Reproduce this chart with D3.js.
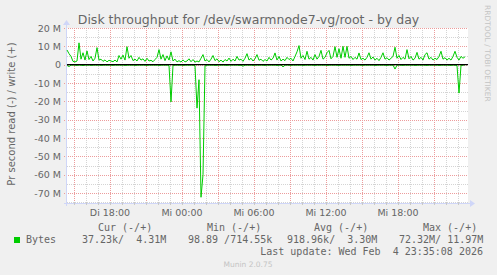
<!DOCTYPE html>
<html>
<head>
<meta charset="utf-8">
<script src="https://cdn.jsdelivr.net/npm/d3@7"></script>
<style>
body { margin: 0; background: #f0f0f0; }
svg text { font-family: "DejaVu Sans", sans-serif; fill: #666666; }
svg text.mono { font-family: "DejaVu Sans Mono", monospace; white-space: pre; }
</style>
</head>
<body>
<script>
// Zeitachse: Start, Ende, Abstand der Messpunkte
var startTime = new Date(2026, 1, 3, 14, 25, 0);
var endTime = new Date(2026, 1, 4, 23, 45, 0);
var stepSeconds = 600;

// write (+) in MB/s, alle 10 Minuten
var writeData = [
    8.0, 6.0, 4.5, 1.8, 1.5, 2.0, 11.9, 3.0, 6.5, 2.5,
    7.5, 2.8, 4.5, 2.0, 3.5, 9.3, 2.5, 3.0, 1.8, 2.6,
    1.5, 2.4, 2.0, 1.6, 2.5, 1.5, 5.0, 3.0, 5.2, 2.5,
    9.8, 3.5, 5.0, 2.2, 3.0, 2.0, 4.0, 2.5, 3.2, 1.8,
    3.5, 2.0, 2.4, 1.6, 2.8, 4.0, 8.2, 3.0, 5.5, 2.2,
    4.8, 2.5, 7.0, 2.0, 3.0, 1.5, 2.2, 1.4, 2.6, 1.5,
    2.0, 3.2, 1.6, 2.8, 1.4, 2.0, 1.5, 3.5, 5.5, 2.0,
    2.8, 1.5, 3.0, 5.0, 2.2, 3.2, 1.6, 2.5, 1.4, 2.8,
    2.0, 3.6, 1.8, 3.0, 2.0, 4.5, 2.5, 3.0, 1.8, 3.5,
    6.0, 2.5, 3.5, 2.0, 3.2, 5.5, 2.4, 3.0, 1.8, 2.8,
    2.0, 4.0, 2.5, 3.5, 6.4, 2.5, 4.5, 2.0, 3.0, 2.2,
    4.0, 2.8, 3.5, 2.0, 4.5, 7.0, 10.4, 3.5, 5.0, 2.8,
    7.3, 3.0, 4.0, 2.5, 5.5, 3.0, 4.5, 7.8, 3.0, 4.0,
    6.5, 7.8, 3.2, 4.5, 9.8, 4.0, 8.7, 3.5, 10.0, 4.0,
    10.0, 3.5, 4.5, 2.8, 4.0, 3.0, 6.4, 2.8, 3.5, 2.5,
    4.0, 6.5, 3.0, 4.2, 2.5, 3.5, 2.2, 4.0, 6.5, 3.0,
    3.8, 2.5, 3.5, 4.5, 9.5, 3.5, 5.0, 2.8, 4.0, 3.0,
    8.2, 3.2, 4.5, 2.5, 3.5, 6.7, 3.0, 4.0, 2.5, 5.5,
    6.5, 3.0, 4.0, 2.5, 3.5, 2.8, 4.5, 7.3, 3.0, 3.8,
    2.5, 3.5, 2.5, 4.5, 7.3, 4.0, 2.5, 4.5, 3.5, 4.31
];
// read (-) in MB/s
var readData = [
    0.4, 1.0, 0.3, 0.2, 0.3, 0.4, 0.2, 0.3, 0.5, 0.2,
    0.3, 0.2, 0.4, 0.3, 0.2, 0.3, 0.2, 0.4, 0.3, 0.2,
    0.3, 0.2, 0.3, 0.4, 0.2, 0.3, 0.2, 0.3, 0.2, 0.4,
    0.3, 0.2, 0.3, 0.2, 0.4, 0.3, 0.2, 0.3, 0.2, 0.3,
    0.4, 0.2, 0.3, 0.2, 0.3, 0.2, 0.4, 0.3, 0.2, 0.3,
    0.2, 0.5, 20.3, 0.4, 0.3, 0.2, 0.3, 0.2, 0.4, 0.3,
    0.2, 0.3, 0.2, 0.3, 0.5, 23.7, 8.2, 72.32, 60.0, 0.6,
    0.3, 0.2, 0.3, 0.2, 0.4, 0.3, 0.2, 0.3, 0.2, 0.3,
    0.4, 0.2, 0.3, 0.2, 0.3, 0.2, 0.4, 0.3, 0.8, 0.3,
    0.2, 0.3, 0.2, 0.4, 0.3, 0.2, 0.3, 0.2, 0.3, 0.4,
    0.2, 0.3, 0.2, 0.3, 0.2, 0.4, 0.3, 0.2, 1.2, 0.3,
    0.2, 0.3, 0.4, 0.2, 0.3, 0.2, 0.3, 0.2, 0.4, 0.3,
    0.2, 0.3, 0.2, 0.3, 0.4, 0.2, 0.3, 0.2, 0.3, 0.2,
    0.4, 0.3, 0.2, 0.3, 0.2, 0.3, 0.4, 0.2, 0.3, 0.2,
    0.3, 0.2, 0.4, 0.3, 0.2, 0.3, 0.2, 0.3, 0.4, 0.2,
    0.3, 0.2, 0.3, 0.2, 0.4, 0.3, 0.2, 0.3, 0.2, 0.3,
    0.4, 0.2, 0.3, 0.2, 2.4, 0.3, 0.2, 0.3, 0.4, 0.2,
    0.3, 0.2, 0.3, 0.2, 0.4, 0.3, 0.2, 0.3, 0.2, 0.3,
    0.4, 0.2, 0.3, 0.2, 0.3, 0.2, 0.4, 0.3, 0.2, 0.3,
    0.2, 0.3, 0.4, 0.2, 0.3, 0.5, 15.5, 0.4, 0.3, 0.037
];

var yTicks = [-70, -60, -50, -40, -30, -20, -10, 0, 10, 20];
var yMinorTicks = [-75, -65, -55, -45, -35, -25, -15, -5, 5, 15];
var yDomain = [-75.45, 20];

var titleText = "Disk throughput for /dev/swarmnode7-vg/root - by day";
var yLabelText = "Pr second read (-) / write (+)";
var legendName = "Bytes";
var legendHeaders = ["Cur (-/+)", "Min (-/+)", "Avg (-/+)", "Max (-/+)"];
var legendValues = ["37.23k/  4.31M", "98.89 /714.55k", "918.96k/  3.30M", "72.32M/ 11.97M"];
var lastUpdate = "Last update: Wed Feb  4 23:35:08 2026";
var watermark = "RRDTOOL / TOBI OETIKER";
var version = "Munin 2.0.75";

var plotLeft = 67, plotRight = 468, plotTop = 28, plotBottom = 203;
var lineColor = "#00cc00";
var axisColor = "#cfd6f8";

var de = d3.timeFormatLocale({
    dateTime: "%A, %e. %B %Y, %X", date: "%d.%m.%Y", time: "%H:%M:%S",
    periods: ["AM", "PM"],
    days: ["Sonntag", "Montag", "Dienstag", "Mittwoch", "Donnerstag", "Freitag", "Samstag"],
    shortDays: ["So", "Mo", "Di", "Mi", "Do", "Fr", "Sa"],
    months: ["Januar", "Februar", "März", "April", "Mai", "Juni", "Juli", "August", "September", "Oktober", "November", "Dezember"],
    shortMonths: ["Jan", "Feb", "Mrz", "Apr", "Mai", "Jun", "Jul", "Aug", "Sep", "Okt", "Nov", "Dez"]
});
var timeLabel = de.format("%a %H:%M");

function timeOf(i) {
    return new Date(startTime.getTime() + i * stepSeconds * 1000);
}

var x = d3.scaleTime().domain([startTime, endTime]).range([plotLeft, plotLeft + 400]);
var y = d3.scaleLinear().domain(yDomain).range([plotBottom, plotTop]);

var svg = d3.select("body").append("svg")
    .attr("width", 497).attr("height", 275)
    .style("display", "block");

svg.append("rect").attr("width", 497).attr("height", 275).attr("fill", "#f0f0f0");
svg.append("rect")
    .attr("x", plotLeft).attr("y", plotTop)
    .attr("width", plotRight - plotLeft).attr("height", plotBottom - plotTop)
    .attr("fill", "#ffffff");

function px(v) { return Math.round(v) + 0.5; }

//网格
var grid = svg.append("g");
var minorHours = d3.timeHour.every(1).range(startTime, endTime);
var majorHours = d3.timeHour.every(3).range(startTime, endTime);
var labelHours = d3.timeHour.every(6).range(startTime, endTime);

grid.selectAll("line.vminor").data(minorHours).enter().append("line")
    .attr("x1", function (d) { return px(x(d)); })
    .attr("x2", function (d) { return px(x(d)); })
    .attr("y1", plotTop).attr("y2", plotBottom)
    .attr("stroke", "#d4d4d4").attr("stroke-dasharray", "1,1");
grid.selectAll("line.hminor").data(yMinorTicks).enter().append("line")
    .attr("x1", plotLeft).attr("x2", plotRight)
    .attr("y1", function (d) { return px(y(d)); })
    .attr("y2", function (d) { return px(y(d)); })
    .attr("stroke", "#d4d4d4").attr("stroke-dasharray", "1,1");
grid.selectAll("line.vmajor").data(majorHours).enter().append("line")
    .attr("x1", function (d) { return px(x(d)); })
    .attr("x2", function (d) { return px(x(d)); })
    .attr("y1", plotTop).attr("y2", plotBottom + 3)
    .attr("stroke", "#ec9c9c").attr("stroke-dasharray", "1,1");
grid.selectAll("line.hmajor").data(yTicks).enter().append("line")
    .attr("x1", plotLeft - 3).attr("x2", plotRight)
    .attr("y1", function (d) { return px(y(d)); })
    .attr("y2", function (d) { return px(y(d)); })
    .attr("stroke", "#ec9c9c").attr("stroke-dasharray", "1,1");

//Achsen
svg.append("line")
    .attr("x1", plotLeft - 3).attr("x2", plotRight + 2)
    .attr("y1", plotBottom + 0.5).attr("y2", plotBottom + 0.5)
    .attr("stroke", axisColor);
svg.append("line")
    .attr("x1", plotLeft - 0.5).attr("x2", plotLeft - 0.5)
    .attr("y1", plotTop - 4).attr("y2", plotBottom + 3)
    .attr("stroke", axisColor);
svg.append("path")
    .attr("d", "M" + (plotRight + 2) + "," + (plotBottom - 3) + "L" + (plotRight + 7) + "," + (plotBottom + 0.5) + "L" + (plotRight + 2) + "," + (plotBottom + 4) + "Z")
    .attr("fill", axisColor);
svg.append("path")
    .attr("d", "M" + (plotLeft - 4) + "," + (plotTop - 3) + "L" + (plotLeft - 0.5) + "," + (plotTop - 8) + "L" + (plotLeft + 3) + "," + (plotTop - 3) + "Z")
    .attr("fill", axisColor);
svg.selectAll("line.xtick").data(minorHours).enter().append("line")
    .attr("x1", function (d) { return px(x(d)); })
    .attr("x2", function (d) { return px(x(d)); })
    .attr("y1", plotBottom - 1).attr("y2", plotBottom + 2)
    .attr("stroke", "#c8c8c8");

// Beschriftung
svg.selectAll("text.ylab").data(yTicks).enter().append("text")
    .attr("x", plotLeft - 6).attr("y", function (d) { return y(d) + 3.5; })
    .attr("text-anchor", "end").style("font-size", "9.5px")
    .text(function (d) { return d === 0 ? "0" : d + " M"; });
svg.selectAll("text.xlab").data(labelHours).enter().append("text")
    .attr("x", function (d) { return x(d); }).attr("y", 216)
    .attr("text-anchor", "middle").style("font-size", "9.5px")
    .text(function (d) { return timeLabel(d); });

svg.append("text").attr("x", 248.5).attr("y", 24)
    .attr("text-anchor", "middle").style("font-size", "12.5px")
    .text(titleText);
svg.append("text")
    .attr("transform", "translate(15,114) rotate(-90)")
    .attr("text-anchor", "middle").style("font-size", "10px")
    .text(yLabelText);
svg.append("text")
    .attr("transform", "translate(485,5) rotate(90)")
    .style("font-size", "7.5px").style("fill", "#c4c4c4")
    .text(watermark);

//数据线
var line = d3.line()
    .x(function (d, i) { return x(timeOf(i)); })
    .y(function (d) { return y(d); });
svg.append("path").datum(readData.map(function (v) { return -v; }))
    .attr("d", line).attr("fill", "none")
    .attr("stroke", lineColor).attr("stroke-width", 1);
svg.append("path").datum(writeData)
    .attr("d", line).attr("fill", "none")
    .attr("stroke", lineColor).attr("stroke-width", 1);
svg.append("line")
    .attr("x1", plotLeft).attr("x2", plotRight)
    .attr("y1", y(0)).attr("y2", y(0))
    .attr("stroke", "#000000").attr("stroke-width", 1.2);

// Legende
var headerX = [98, 207, 314, 423];
var valueX = [82, 188, 287, 399];
svg.selectAll("text.lh").data(legendHeaders).enter().append("text")
    .attr("class", "mono").attr("x", function (d, i) { return headerX[i]; })
    .attr("y", 230.5).style("font-size", "10px")
    .text(function (d) { return d; });
svg.append("rect").attr("x", 14).attr("y", 237).attr("width", 6).attr("height", 6).attr("fill", lineColor);
svg.append("text").attr("class", "mono").attr("x", 26).attr("y", 242.5)
    .style("font-size", "10px").text(legendName);
svg.selectAll("text.lv").data(legendValues).enter().append("text")
    .attr("class", "mono").attr("x", function (d, i) { return valueX[i]; })
    .attr("y", 242.5).style("font-size", "10px")
    .text(function (d) { return d; });
svg.append("text").attr("class", "mono").attr("x", 483).attr("y", 254.5)
    .attr("text-anchor", "end").style("font-size", "10px")
    .text(lastUpdate);
svg.append("text").attr("x", 248).attr("y", 267)
    .attr("text-anchor", "middle").style("font-size", "7.5px").style("fill", "#c4c4c4")
    .text(version);
</script>
</body>
</html>
